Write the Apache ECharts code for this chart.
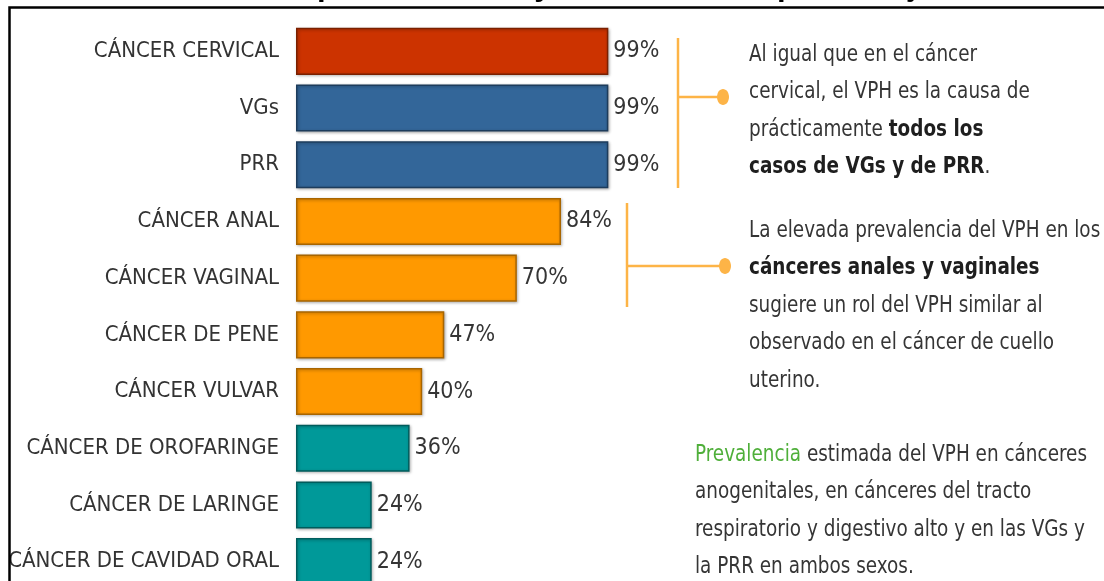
<!DOCTYPE html>
<html>
<head>
<meta charset="utf-8">
<script src="https://cdn.jsdelivr.net/npm/echarts@6/dist/echarts.min.js"></script>
<style>
html,body{margin:0;padding:0;background:#fff;}
#c{width:1104px;height:581px;}
</style>
</head>
<body>
<div id="c"></div>
<script>
// ---- data ----
var categories = ['CÁNCER CERVICAL','VGs','PRR','CÁNCER ANAL','CÁNCER VAGINAL','CÁNCER DE PENE','CÁNCER VULVAR','CÁNCER DE OROFARINGE','CÁNCER DE LARINGE','CÁNCER DE CAVIDAD ORAL'];
var values = [99,99,99,84,70,47,40,36,24,24];
var groups = ['cervical','vgprr','vgprr','anogenital','anogenital','anogenital','anogenital','oral','oral','oral'];
var titleText = 'Gráfica 1. Diferentes tipos de cáncer y su relación en porcentaje con el VPH';

// ---- styles ----
var groupFill = {cervical:'#CC3300', vgprr:'#336699', anogenital:'#FF9900', oral:'#009999'};
var groupBorder = {cervical:'#7a2000', vgprr:'#1d3c5c', anogenital:'#a86500', oral:'#005c5c'};
var FONT = 'DejaVu Sans Condensed';
var orange = '#FDB447';

var chart = echarts.init(document.getElementById('c'), null, {renderer:'canvas'});

var data = values.map(function(v,i){
  return {value:v, itemStyle:{color:groupFill[groups[i]], borderColor:groupBorder[groups[i]]}};
});

var rich = {
  n:{fontFamily:FONT, fontSize:23, fill:'#353535', lineHeight:37.5},
  b:{fontFamily:FONT, fontSize:23, fill:'#1e1e1e', fontWeight:'bold', lineHeight:37.5},
  g:{fontFamily:FONT, fontSize:23, fill:'#4FAF3A', lineHeight:37.5}
};

function block(x, y, text){
  return {type:'text', x:x, y:y, scaleX:0.89, z:10,
    style:{x:0, y:0, text:text, rich:rich, fontFamily:FONT, fontSize:23, lineHeight:37.5, verticalAlign:'top', align:'left', fill:'#353535'}};
}

var option = {
  animation:false,
  backgroundColor:'#fff',
  grid:{left:296, top:23, width:315.5, height:567, containLabel:false, outerBoundsMode:'none'},
  xAxis:{type:'value', min:0, max:100, show:false},
  yAxis:{type:'category', data:categories, inverse:true,
    axisLine:{show:false}, axisTick:{show:false}, splitLine:{show:false},
    axisLabel:{fontFamily:FONT, fontSize:22, color:'#333', margin:17}},
  series:[{
    type:'bar', data:data, barCategoryGap:'17%',
    itemStyle:{borderWidth:1.5, shadowColor:'rgba(0,0,0,0.3)', shadowBlur:3, shadowOffsetX:1, shadowOffsetY:1},
    label:{show:true, position:'right', distance:5, formatter:'{c}%', fontFamily:FONT, fontSize:23, color:'#353535'}
  }],
  graphic:[
    {type:'rect', shape:{x:9.5, y:7.5, width:1300, height:700}, style:{fill:null, stroke:'#000', lineWidth:2.5}, z:1},
    {type:'text', x:-12, y:-14, style:{text:titleText, fontFamily:'Liberation Sans', fontWeight:'bold', fontSize:31, fill:'#000', verticalAlign:'middle', align:'left'}, z:1},
    // bracket 1
    {type:'line', shape:{x1:678, y1:38, x2:678, y2:188}, style:{stroke:orange, lineWidth:2.5}},
    {type:'line', shape:{x1:678, y1:97, x2:722, y2:97}, style:{stroke:orange, lineWidth:2.5}},
    {type:'ellipse', shape:{cx:723, cy:97, rx:6, ry:8}, style:{fill:orange}},
    // bracket 2
    {type:'line', shape:{x1:627, y1:203, x2:627, y2:307}, style:{stroke:orange, lineWidth:2.5}},
    {type:'line', shape:{x1:627, y1:266, x2:724, y2:266}, style:{stroke:orange, lineWidth:2.5}},
    {type:'ellipse', shape:{cx:725, cy:266, rx:6, ry:8}, style:{fill:orange}},
    block(749, 36, '{n|Al igual que en el cáncer}\n{n|cervical, el VPH es la causa de}\n{n|prácticamente }{b|todos los}\n{b|casos de VGs y de PRR}{n|.}'),
    block(749, 212, '{n|La elevada prevalencia del VPH en los}\n{b|cánceres anales y vaginales}\n{n|sugiere un rol del VPH similar al}\n{n|observado en el cáncer de cuello}\n{n|uterino.}'),
    block(695, 436, '{g|Prevalencia}{n| estimada del VPH en cánceres}\n{n|anogenitales, en cánceres del tracto}\n{n|respiratorio y digestivo alto y en las VGs y}\n{n|la PRR en ambos sexos.}')
  ]
};
chart.setOption(option);
</script>
</body>
</html>
